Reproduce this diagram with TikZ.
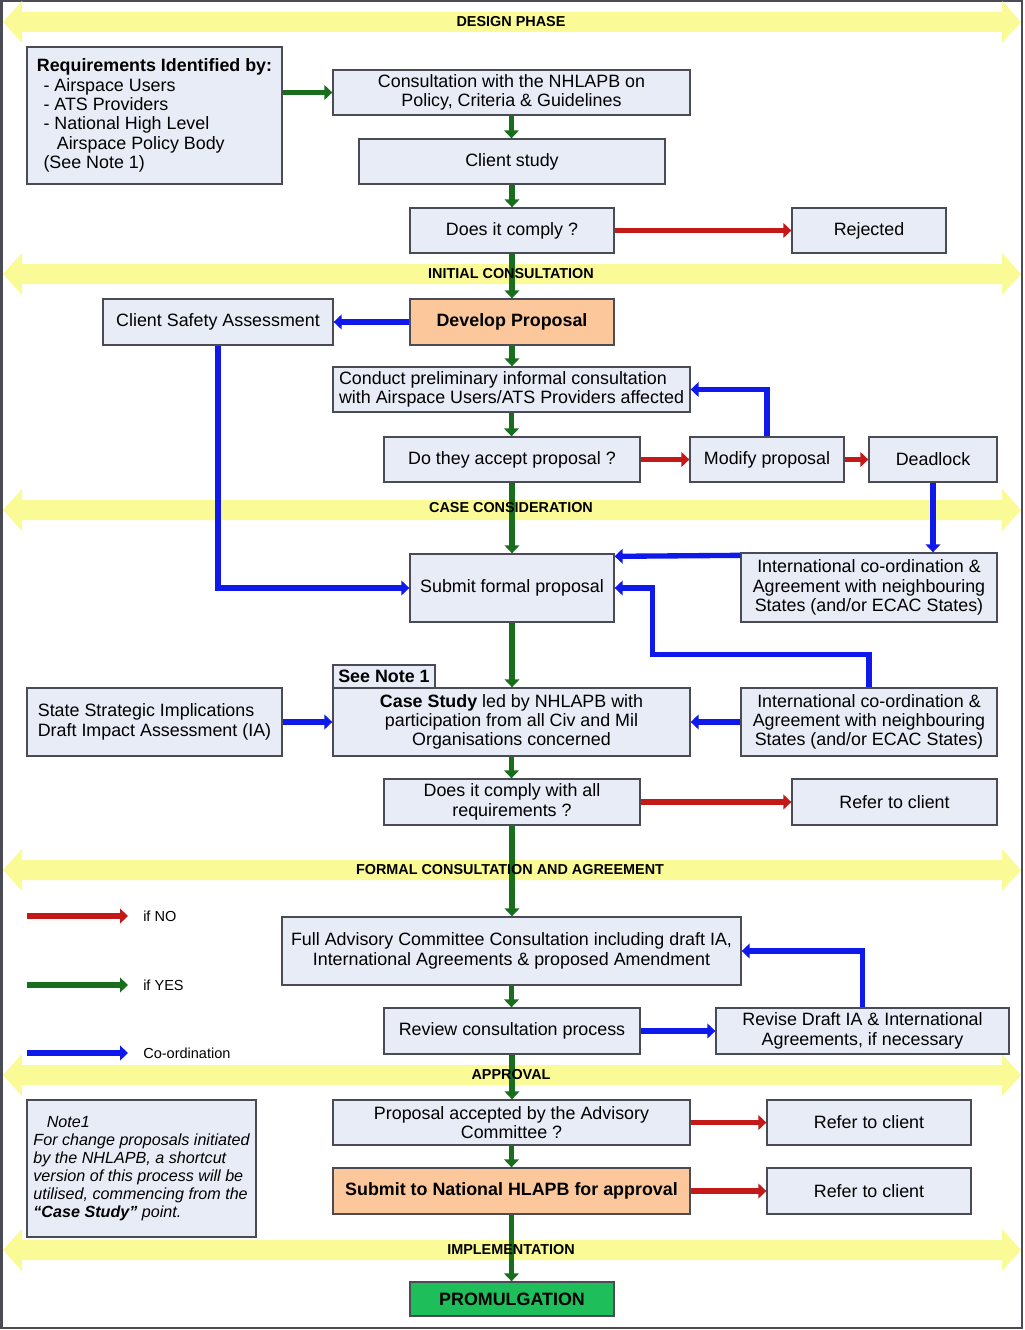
\documentclass[tikz,border=0pt]{standalone}
\usepackage{fontspec}
\setmainfont{Liberation Sans}
\usetikzlibrary{arrows.meta,calc}
\definecolor{boxfill}{RGB}{231,236,246}
\definecolor{boxline}{RGB}{75,75,85}
\definecolor{orangefill}{RGB}{252,200,155}
\definecolor{promfill}{RGB}{30,190,90}
\definecolor{arrgreen}{RGB}{25,110,30}
\definecolor{arrred}{RGB}{195,25,25}
\definecolor{arrblue}{RGB}{15,25,235}
\definecolor{bandyellow}{RGB}{250,250,150}
\newcommand\mainfs{\fontsize{13.4}{14.5}\selectfont}
\newcommand\bandfs{\fontsize{10.8}{12}\selectfont\bfseries}
\newcommand\legfs{\fontsize{10.9}{12}\selectfont}
\newcommand\notefs{\fontsize{12.1}{13.4}\selectfont\itshape}
\newcommand\mybox[7][]{%
  \pgfmathsetlengthmacro\bw{(#5-#3)*0.75pt}%
  \pgfmathsetlengthmacro\bh{(#6-#4)*0.75pt}%
  \node[box,minimum width=\bw,minimum height=\bh,#1] (#2) at ({(#3+#5)/2},{(#4+#6)/2}) {#7};}
\newcommand\band[1]{%
  \fill[bandyellow] (3,#1) -- (22,#1-21) -- (22,#1-10) -- (1002,#1-10) -- (1002,#1-21)
    -- (1021,#1) -- (1002,#1+21) -- (1002,#1+10) -- (22,#1+10) -- (22,#1+21) -- cycle;}
\tikzset{
  box/.style={draw=boxline, fill=boxfill, line width=1pt, inner sep=2pt, align=center, font=\mainfs},
  arr/.style={line width=4pt, -{Triangle[length=6pt,width=11pt]}},
  garr/.style={arr, draw=arrgreen},
  rarr/.style={arr, draw=arrred},
  barr/.style={arr, draw=arrblue},
  bandlabel/.style={font=\bandfs, inner sep=0pt},
  leglabel/.style={font=\legfs, anchor=west, inner sep=0pt}
}
\begin{document}
\begin{tikzpicture}[x=0.75pt,y=-0.75pt]
\useasboundingbox (0,0) rectangle (1024,1330);
\fill[white] (0,0) rectangle (1024,1330);
\draw[boxline, line width=1.5pt] (1.5,1.5) rectangle (1022,1328);

% phase bands
\band{22}
\band{274}
\band{510}
\band{870}
\band{1075}
\band{1250}

% boxes
\mybox[align=left]{req}{27}{47}{282}{184}{\textbf{Requirements Identified by:}\\\hspace*{5pt}- Airspace Users\\\hspace*{5pt}- ATS Providers\\\hspace*{5pt}- National High Level\\\hspace*{15pt}Airspace Policy Body\\\hspace*{5pt}(See Note 1)}
\mybox{consult}{333}{70}{690}{115}{Consultation with the NHLAPB on\\Policy, Criteria \& Guidelines}
\mybox{client}{359}{139}{665}{184}{Client study}
\mybox{comply}{410}{208}{614}{253}{Does it comply ?}
\mybox{rejected}{792}{208}{946}{253}{Rejected}
\mybox{csa}{103}{299}{333}{345}{Client Safety Assessment}
\mybox[fill=orangefill,font=\mainfs\bfseries]{develop}{410}{299}{614}{345}{Develop Proposal}
\mybox[align=left]{conduct}{333}{367}{690}{412}{Conduct preliminary informal consultation\\with Airspace Users/ATS Providers affected}
\mybox{accept}{384}{437}{640}{482}{Do they accept proposal ?}
\mybox{modify}{690}{437}{844}{482}{Modify proposal}
\mybox{deadlock}{869}{437}{997}{482}{Deadlock}
\mybox{submit}{410}{554}{614}{622}{Submit formal proposal}
\mybox{intlA}{741}{553}{997}{622}{International co-ordination \&\\Agreement with neighbouring\\States (and/or ECAC States)}
\mybox[font=\mainfs\bfseries]{seenote}{333}{665}{435}{688}{See Note 1}
\mybox{case}{333}{688}{690}{756}{\textbf{Case Study} led by NHLAPB with\\participation from all Civ and Mil\\Organisations concerned}
\mybox[align=left]{state}{27}{688}{282}{756}{State Strategic Implications\\Draft Impact Assessment (IA)}
\mybox{intlB}{741}{688}{997}{756}{International co-ordination \&\\Agreement with neighbouring\\States (and/or ECAC States)}
\mybox{comply2}{384}{779}{640}{825}{Does it comply with all\\requirements ?}
\mybox{referA}{792}{779}{997}{825}{Refer to client}
\mybox{full}{282}{917}{741}{985}{Full Advisory Committee Consultation including draft IA,\\International Agreements \& proposed Amendment}
\mybox{review}{384}{1008}{640}{1054}{Review consultation process}
\mybox{revise}{716}{1008}{1009}{1054}{Revise Draft IA \& International\\Agreements, if necessary}
\mybox{pacc}{333}{1100}{690}{1145}{Proposal accepted by the Advisory\\Committee ?}
\mybox{referB}{767}{1100}{971}{1145}{Refer to client}
\mybox[fill=orangefill,font=\mainfs\bfseries]{subnat}{333}{1168}{690}{1214}{Submit to National HLAPB for approval}
\mybox{referC}{767}{1168}{971}{1214}{Refer to client}
\mybox[fill=promfill,font=\mainfs\bfseries]{promul}{410}{1282}{614}{1316}{PROMULGATION}
\mybox[align=left,font=\notefs]{note}{27}{1100}{256}{1237}{\hspace*{10pt}Note1\\For change proposals initiated\\by the NHLAPB, a shortcut\\version of this process will be\\utilised, commencing from the\\\textbf{``Case Study''} point.}

% green (yes) flow
\draw[garr] (req.east |- consult.west) -- (consult.west);
\draw[garr] (consult.south) -- (consult.south |- client.north);
\draw[garr] (client.south) -- (client.south |- comply.north);
\draw[garr] (comply.south) -- (comply.south |- develop.north);
\draw[garr] (develop.south) -- (develop.south |- conduct.north);
\draw[garr] (conduct.south) -- (conduct.south |- accept.north);
\draw[garr] (accept.south) -- (accept.south |- submit.north);
\draw[garr] (submit.south) -- (submit.south |- case.north);
\draw[garr] (case.south) -- (case.south |- comply2.north);
\draw[garr] (comply2.south) -- (comply2.south |- full.north);
\draw[garr] (full.south) -- (full.south |- review.north);
\draw[garr] (review.south) -- (review.south |- pacc.north);
\draw[garr] (pacc.south) -- (pacc.south |- subnat.north);
\draw[garr] (subnat.south) -- (subnat.south |- promul.north);

% red (no) flow
\draw[rarr] (comply.east) -- (rejected.west);
\draw[rarr] (accept.east) -- (modify.west);
\draw[rarr] (modify.east) -- (deadlock.west);
\draw[rarr] (comply2.east) -- (referA.west);
\draw[rarr] (pacc.east) -- (referB.west);
\draw[rarr] (subnat.east) -- (referC.west);

% blue (co-ordination)
\draw[barr] (develop.west) -- (csa.east);
\draw[barr] (csa.south) |- (submit.west);
\draw[barr] (modify.north) |- (conduct.east);
\draw[barr] (deadlock.south) -- (deadlock.south |- intlA.north);
\draw[barr] ($(intlA.north west)+(0,3)$) -- ($(submit.north east)+(0,3)$);
\draw[barr] (intlB.north) -- ++(0,-33) -| ($(submit.east)+(38,0)$) -- (submit.east);
\draw[barr] (intlB.west) -- (case.east);
\draw[barr] (state.east) -- (case.west);
\draw[barr] (review.east) -- (revise.west);
\draw[barr] (revise.north) |- (full.east);

% band labels
\node[bandlabel] (lblDesign) at (511,22) {DESIGN PHASE};
\node[bandlabel] (lblInitial) at (511,274) {INITIAL CONSULTATION};
\node[bandlabel] (lblCase) at (511,508) {CASE CONSIDERATION};
\node[bandlabel] (lblFormal) at (510,870) {FORMAL CONSULTATION AND AGREEMENT};
\node[bandlabel] (lblApproval) at (511,1075) {APPROVAL};
\node[bandlabel] (lblImpl) at (511,1250) {IMPLEMENTATION};

% legend
\coordinate (lgNoA) at (27,916);  \coordinate (lgNoB) at (128,916);
\coordinate (lgYesA) at (27,985); \coordinate (lgYesB) at (128,985);
\coordinate (lgCoA) at (27,1053); \coordinate (lgCoB) at (128,1053);
\draw[rarr] (lgNoA) -- (lgNoB);
\draw[garr] (lgYesA) -- (lgYesB);
\draw[barr] (lgCoA) -- (lgCoB);
\node[leglabel] (lgNo) at (143,916) {if NO};
\node[leglabel] (lgYes) at (143,985) {if YES};
\node[leglabel] (lgCo) at (143,1053) {Co-ordination};
\end{tikzpicture}
\end{document}
